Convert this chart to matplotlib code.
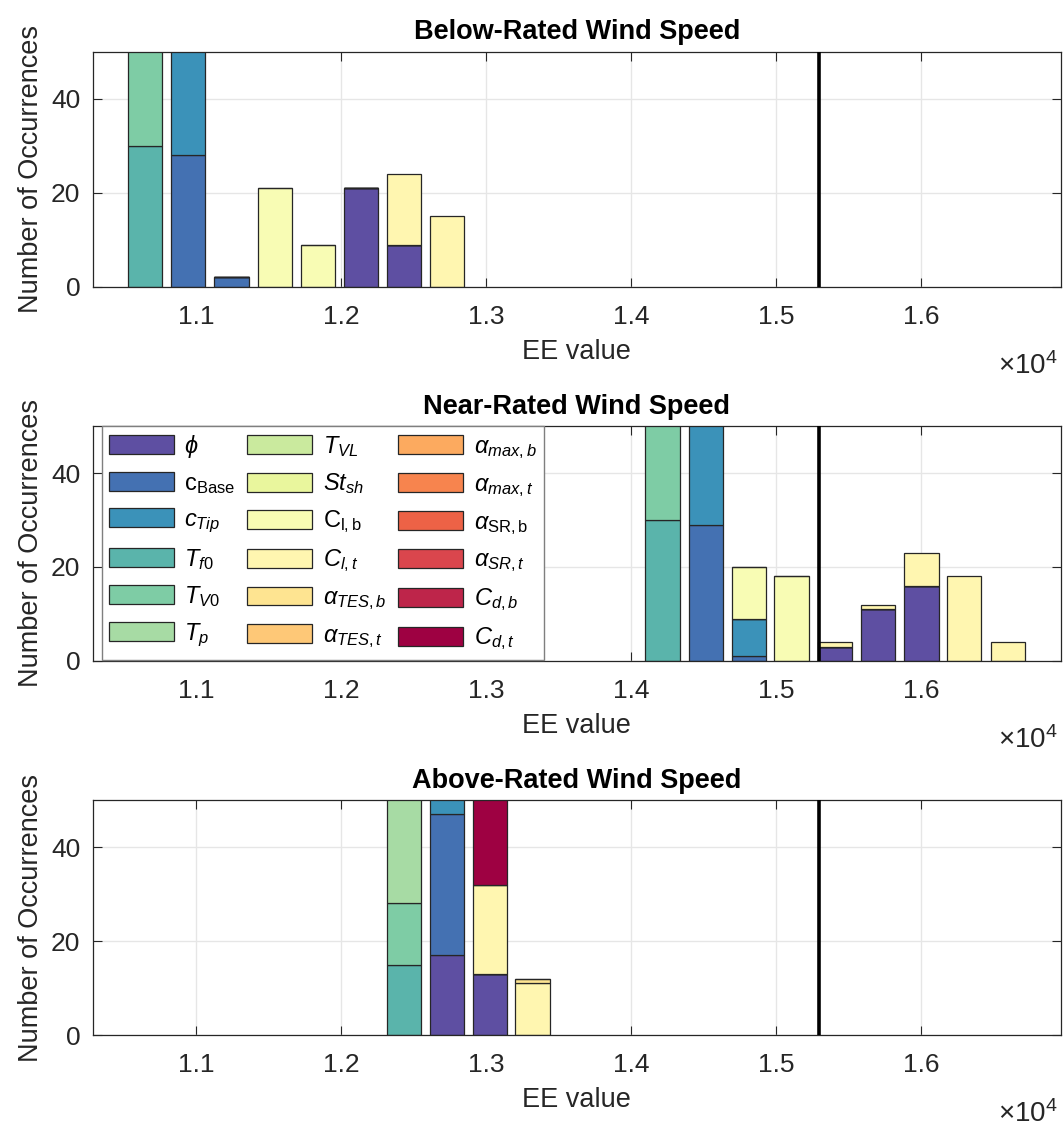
import numpy as np
import matplotlib
matplotlib.use("Agg")
import matplotlib.pyplot as plt
from matplotlib.patches import Patch
from matplotlib.ticker import FuncFormatter

plt.rcParams['font.family'] = ['Liberation Sans', 'DejaVu Sans']
plt.rcParams['mathtext.fontset'] = 'custom'
plt.rcParams['mathtext.rm'] = 'Liberation Sans'
plt.rcParams['mathtext.it'] = 'Liberation Sans:italic'
plt.rcParams['mathtext.bf'] = 'Liberation Sans:bold'

# Parameter labels, in stacking order (bottom to top)
param_labels = [
    r'$\phi$', r'$\mathrm{c}_{\mathrm{Base}}$', r'$c_{Tip}$', r'$T_{f0}$',
    r'$T_{V0}$', r'$T_p$', r'$T_{VL}$', r'$St_{sh}$',
    r'$\mathrm{C}_{\mathrm{l,b}}$', r'$C_{l,t}$', r'$\alpha_{TES,b}$', r'$\alpha_{TES,t}$',
    r'$\alpha_{max,b}$', r'$\alpha_{max,t}$', r'$\alpha_{\mathrm{SR,b}}$', r'$\alpha_{SR,t}$',
    r'$C_{d,b}$', r'$C_{d,t}$',
]
param_keys = ['phi', 'cBase', 'cTip', 'Tf0', 'TV0', 'Tp', 'TVL', 'Stsh',
              'Clb', 'Clt', 'aTESb', 'aTESt', 'amaxb', 'amaxt', 'aSRb', 'aSRt',
              'Cdb', 'Cdt']

# Reference EE value (vertical line)
ee_ref = 15295

# Below-rated: bin centres and counts per parameter
below_bins = [10650, 10945, 11245, 11545, 11840, 12140, 12435, 12730]
below_counts = {
    'phi':   [0, 0, 0, 0, 0, 21, 9, 0],
    'cBase': [0, 28, 2, 0, 0, 0, 0, 0],
    'cTip':  [0, 30, 0, 0, 0, 0, 0, 0],
    'Tf0':   [30, 0, 0, 0, 0, 0, 0, 0],
    'TV0':   [28, 0, 0, 0, 0, 0, 0, 0],
    'Clb':   [0, 0, 0, 21, 9, 0, 0, 0],
    'Clt':   [0, 0, 0, 0, 0, 0, 15, 15],
}

# Near-rated
near_bins = [14215, 14515, 14810, 15105, 15405, 15700, 16000, 16295, 16595]
near_counts = {
    'phi':   [0, 0, 0, 0, 3, 11, 16, 0, 0],
    'cBase': [0, 29, 1, 0, 0, 0, 0, 0, 0],
    'cTip':  [0, 27, 8, 0, 0, 0, 0, 0, 0],
    'Tf0':   [30, 0, 0, 0, 0, 0, 0, 0, 0],
    'TV0':   [26, 0, 0, 0, 0, 0, 0, 0, 0],
    'Clb':   [0, 0, 11, 18, 0, 0, 0, 0, 0],
    'Clt':   [0, 0, 0, 0, 1, 1, 7, 18, 4],
}

# Above-rated
above_bins = [12435, 12730, 13025, 13320]
above_counts = {
    'phi':   [0, 17, 13, 0],
    'cBase': [0, 30, 0, 0],
    'cTip':  [0, 8, 0, 0],
    'Tf0':   [15, 0, 0, 0],
    'TV0':   [13, 0, 0, 0],
    'Tp':    [30, 0, 0, 0],
    'Clt':   [0, 0, 19, 11],
    'aTESb': [0, 0, 0, 1],
    'Cdt':   [0, 0, 22, 0],
}

colors = plt.cm.Spectral_r(np.linspace(0, 1, len(param_keys)))
axis_col = '#262626'
bar_width = 236

fig = plt.figure(figsize=(10.63, 11.27), dpi=100)
ax_h = 0.2085
positions = [
    [0.0873, 0.7455, 0.9106, ax_h],
    [0.0873, 0.4135, 0.9106, ax_h],
    [0.0873, 0.0816, 0.9106, ax_h],
]
titles = ['Below-Rated Wind Speed', 'Near-Rated Wind Speed', 'Above-Rated Wind Speed']
panels = [(below_bins, below_counts), (near_bins, near_counts), (above_bins, above_counts)]

axes = []
for pos, title, (bins, counts) in zip(positions, titles, panels):
    ax = fig.add_axes(pos)
    bottom = np.zeros(len(bins))
    for i, key in enumerate(param_keys):
        if key not in counts:
            continue
        vals = np.array(counts[key], dtype=float)
        ax.bar(bins, vals, bottom=bottom, width=bar_width, color=colors[i],
               edgecolor=axis_col, linewidth=0.9, zorder=2)
        bottom += vals
    ax.axvline(ee_ref, color='black', linewidth=2.6, zorder=4)

    ax.set_xlim(10290, 16960)
    ax.set_ylim(0, 50)
    ax.set_xticks([11000, 12000, 13000, 14000, 15000, 16000])
    ax.set_yticks([0, 20, 40])
    ax.xaxis.set_major_formatter(FuncFormatter(lambda v, p: f'{v / 1e4:.1f}'))
    ax.set_axisbelow(True)
    ax.grid(True, color='#e6e6e6', linewidth=1.0)
    ax.tick_params(direction='in', length=6.5, width=0.8, colors=axis_col,
                   labelsize=19, top=True, right=True)
    ax.tick_params(axis='x', pad=13)
    ax.tick_params(axis='y', pad=9)
    for sp in ax.spines.values():
        sp.set_color(axis_col)
        sp.set_linewidth(0.9)
    ax.set_title(title, fontsize=19.5, fontweight='bold', pad=9)
    ax.set_xlabel('EE value', fontsize=19.5, color=axis_col, labelpad=7)
    ax.set_ylabel('Number of Occurrences', fontsize=19.5, color=axis_col, labelpad=5)
    ax.text(0.997, -0.37, r'$\times\mathregular{10^{4}}$', transform=ax.transAxes,
            ha='right', va='baseline', fontsize=20, color=axis_col)
    axes.append(ax)

handles = [Patch(facecolor=c, edgecolor=axis_col, linewidth=0.9) for c in colors]
leg = axes[1].legend(handles, param_labels, ncol=3, loc='upper left',
                     bbox_to_anchor=(0.0093, 1.0), borderaxespad=0,
                     fontsize=17, handlelength=2.75, handleheight=0.85,
                     labelspacing=0.52, columnspacing=0.5, handletextpad=0.45,
                     borderpad=0.3, fancybox=False, framealpha=1,
                     edgecolor='#7f7f7f')
leg.get_frame().set_linewidth(1.0)
leg.set_zorder(5)

fig.savefig('out.png', dpi=100)
